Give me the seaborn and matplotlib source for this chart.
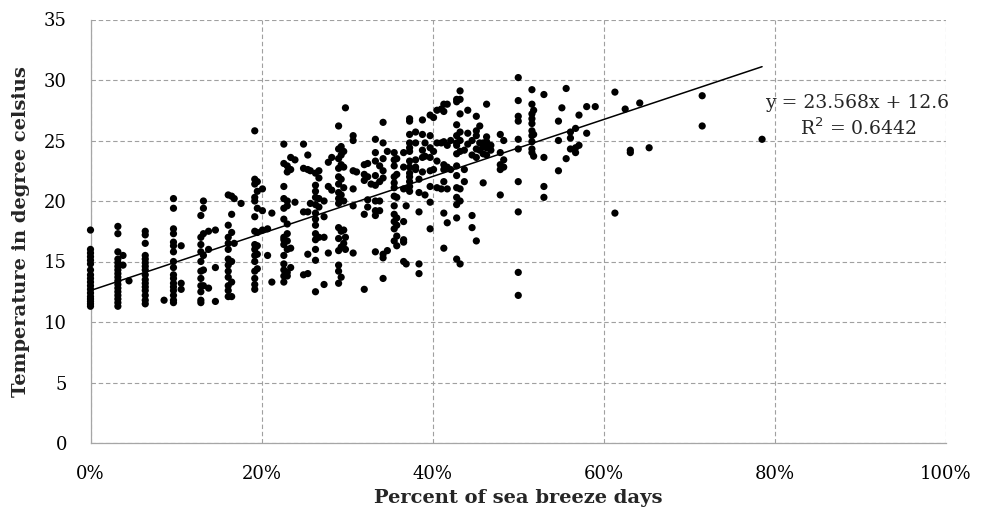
import matplotlib
matplotlib.use("Agg")
import matplotlib.pyplot as plt
import matplotlib.ticker as mticker
import numpy as np
import pandas as pd
import seaborn as sns

# Share of sea breeze days (percent) for each column of monthly observations
pct_columns = [
    0.0, 3.2, 3.8, 4.5, 6.4, 8.6, 9.7, 10.6, 12.9, 13.2, 13.8, 14.6,
    16.1, 16.5, 16.8, 17.6, 19.2, 19.5, 20.1, 20.7, 21.2, 22.6, 23.0, 23.4,
    23.9, 24.9, 25.4, 25.7, 26.3, 26.7, 27.3, 27.8, 28.2, 29.0, 29.3, 29.6,
    29.8, 30.7, 31.1, 32.0, 32.4, 32.8, 33.3, 33.8, 34.2, 34.7, 35.5, 35.8,
    36.6, 36.9, 37.3, 38.0, 38.4, 38.8, 39.1, 39.7, 40.1, 40.5, 41.0, 41.3,
    41.7, 42.1, 42.8, 43.2, 43.7, 44.1, 44.6, 45.1, 45.5, 45.9, 46.3, 46.8,
    47.9, 48.3, 50.0, 51.6, 51.8, 53.0, 54.7, 55.1, 55.6, 56.1, 56.7, 57.1,
    58.0, 59.0, 61.3, 62.5, 63.1, 64.2, 65.3, 71.5, 78.5,
]

# Mean temperature (degree celsius) observed in each column above
temp_columns = [
    [17.6, 16.0, 15.7, 15.4, 15.1, 14.8, 14.3, 13.9, 13.6, 13.3, 13.0, 12.7, 12.4, 12.1, 11.9, 11.7, 11.5, 11.3],
    [17.9, 17.3, 15.8, 15.2, 14.9, 14.6, 14.3, 14.0, 13.7, 13.4, 13.1, 12.8, 12.5, 12.2, 11.9, 11.6, 11.3],
    [15.5, 14.7],
    [13.4],
    [17.5, 17.2, 16.5, 15.5, 15.2, 14.9, 14.6, 14.3, 13.9, 13.5, 13.2, 12.9, 12.6, 12.2, 11.8, 11.5],
    [11.8],
    [20.2, 19.4, 17.7, 17.3, 16.6, 16.3, 15.8, 15.0, 14.5, 13.9, 13.6, 13.2, 12.9, 12.6, 12.2, 11.8, 11.6],
    [16.3, 13.2, 12.7],
    [18.8, 17.0, 16.4, 15.8, 15.0, 14.2, 13.6, 13.0, 12.5, 11.8, 11.6],
    [20.0, 19.4, 17.3, 15.5, 14.3, 13.0],
    [17.5, 16.0, 12.8],
    [17.6, 14.5, 11.7],
    [20.5, 18.0, 17.0, 16.5, 16.0, 15.2, 14.7, 14.2, 13.7, 13.0, 12.6, 12.1],
    [20.4, 18.9, 17.4, 15.0, 13.3, 12.1],
    [20.2, 16.5],
    [19.8],
    [25.8, 21.8, 21.4, 20.3, 20.0, 18.7, 17.5, 16.4, 16.0, 15.5, 15.0, 14.2, 13.6, 13.1, 12.7],
    [21.6, 20.8, 19.4, 17.4, 16.3, 15.6, 14.4],
    [21.0, 19.2, 17.6],
    [17.7, 15.5],
    [19.0, 13.3],
    [24.7, 23.1, 21.2, 20.2, 19.4, 18.5, 17.0, 16.8, 16.4, 15.5, 14.8, 14.3, 13.8, 13.3],
    [22.9, 22.4, 20.0, 19.6, 18.1, 17.3, 16.7, 16.0, 14.1, 13.8],
    [23.6, 22.6, 16.1, 14.5],
    [23.4, 19.9],
    [24.7, 22.7, 19.1, 13.9],
    [23.8, 22.6, 19.1, 15.6, 14.0],
    [22.5, 19.8],
    [22.3, 21.3, 20.8, 20.3, 19.7, 19.0, 18.5, 18.0, 17.3, 16.8, 16.0, 15.1, 12.5],
    [22.5, 21.9, 20.2, 19.5, 17.0],
    [20.0, 18.7, 17.0, 13.1],
    [23.2, 21.2, 15.7],
    [23.6, 20.9],
    [26.2, 24.3, 23.5, 22.7, 22.0, 21.4, 20.7, 20.2, 19.8, 17.8, 16.9, 15.9, 14.7, 14.2, 13.2],
    [24.5, 23.8, 23.0, 21.8, 20.5, 17.5, 16.2, 13.7],
    [24.1, 22.8, 21.1, 20.0, 17.6, 16.5],
    [27.7, 17.0, 16.0],
    [25.4, 25.0, 22.5, 21.0, 19.6, 15.7],
    [22.4],
    [23.0, 22.2, 21.7, 18.9, 12.7],
    [23.1, 22.0, 20.1, 19.5],
    [21.4],
    [25.1, 24.0, 23.3, 22.1, 21.3, 20.0, 19.2, 18.8, 15.8],
    [22.9, 21.6, 20.0, 19.2],
    [26.5, 24.8, 23.5, 22.5, 21.9, 15.6, 15.3, 13.6],
    [24.1, 15.9],
    [24.0, 23.4, 22.9, 22.0, 21.5, 21.1, 20.4, 19.6, 18.9, 18.3, 17.7, 16.7],
    [23.5, 22.2, 20.3, 18.6, 18.0, 17.1, 16.3],
    [24.0, 22.8, 21.0, 18.3, 16.8, 16.6, 15.0],
    [19.6, 14.8],
    [26.8, 26.6, 25.5, 24.8, 24.4, 24.1, 23.3, 22.8, 22.3, 22.0, 21.6, 21.2, 20.8],
    [25.7, 24.8, 23.4, 22.8, 22.6],
    [21.8, 20.7, 19.1, 14.8, 14.0],
    [26.7, 25.5, 24.2, 23.6, 22.4],
    [24.8, 23.7, 20.5],
    [27.1, 25.4, 24.4, 23.6, 22.5, 21.2, 19.9, 17.7],
    [26.9, 24.1, 22.6],
    [27.5, 24.8, 23.3, 21.1],
    [27.6, 24.8, 21.0],
    [28.0, 27.4, 24.9, 23.0, 22.6, 21.6, 19.0, 16.1],
    [28.0, 24.6, 22.8, 21.0, 18.2],
    [25.0, 22.6],
    [28.4, 28.2, 26.3, 25.4, 24.8, 24.6, 23.9, 22.9, 22.1, 21.1, 20.3, 19.7, 18.6, 15.2],
    [29.1, 28.4, 27.2, 25.7, 25.0, 24.1, 21.0, 20.0, 14.8],
    [24.2, 22.6, 21.6],
    [27.5, 25.6, 24.7],
    [25.0, 23.8, 18.8, 17.8],
    [27.0, 25.8, 25.4, 24.3, 23.6, 16.7],
    [26.2, 24.8, 24.2],
    [24.8, 24.5, 23.9, 21.5],
    [28.0, 25.3, 24.9, 24.4, 23.8],
    [24.6, 24.2],
    [25.5, 24.0, 23.0, 22.6, 20.5],
    [25.0, 23.4, 22.8],
    [30.2, 28.3, 27.0, 26.6, 25.1, 24.3, 21.6, 19.1, 14.1, 12.2],
    [29.2, 28.0, 27.2, 26.8, 26.4, 25.8, 25.4, 24.9, 24.3, 24.0],
    [27.5, 25.5, 23.7],
    [28.8, 23.6, 21.2, 20.3],
    [26.6, 25.0, 22.5],
    [27.7],
    [29.3, 23.5],
    [25.7, 25.2, 24.3],
    [26.0, 24.4, 24.0],
    [27.1, 24.6],
    [27.8, 25.6],
    [27.8],
    [29.0, 19.0],
    [27.6],
    [24.2, 24.0],
    [28.1],
    [24.4],
    [28.7, 26.2],
    [25.1],
]

# Linear trend reported with the chart
trend_slope = 23.568
trend_intercept = 12.6
trend_r2 = 0.6442

x_ticks = [0.0, 0.2, 0.4, 0.6, 0.8, 1.0]
y_ticks = [0, 5, 10, 15, 20, 25, 30, 35]

rows = [(p / 100.0, t) for p, ts in zip(pct_columns, temp_columns) for t in ts]
df = pd.DataFrame(rows, columns=["share", "temp"])

sns.set_theme(style="white")
plt.rcParams["font.family"] = ["DejaVu Serif"]

fig = plt.figure(figsize=(9.82, 5.25), dpi=100)
left, right, top, bottom = 90.5, 946.0, 19.5, 443.0
ax = fig.add_axes([left / 982, 1 - bottom / 525, (right - left) / 982, (bottom - top) / 525])

sns.scatterplot(data=df, x="share", y="temp", ax=ax, color="black",
                s=27, linewidth=0, edgecolor="none", zorder=3, clip_on=False)

x_line = np.array([0.0, df["share"].max()])
trend = pd.DataFrame({"share": x_line, "temp": trend_slope * x_line + trend_intercept})
sns.lineplot(data=trend, x="share", y="temp", ax=ax, color="black",
             linewidth=1.1, zorder=4)

ax.set_xlim(0, 1.0)
ax.set_ylim(0, 35)
ax.set_xticks(x_ticks)
ax.set_yticks(y_ticks)
ax.xaxis.set_major_formatter(mticker.PercentFormatter(xmax=1.0, decimals=0))
ax.tick_params(axis="both", labelsize=13, length=0, colors="black")
ax.tick_params(axis="y", pad=17)
ax.tick_params(axis="x", pad=16)

ax.grid(True, color="#a0a0a0", linestyle=(0, (4, 2.5)), linewidth=0.8, zorder=0)
for side in ("top", "right"):
    ax.spines[side].set_visible(False)
for side in ("left", "bottom"):
    ax.spines[side].set_color("#a6a6a6")
    ax.spines[side].set_linewidth(0.9)

ax.set_xlabel("Percent of sea breeze days", fontsize=14, fontweight="bold", labelpad=4)
ax.set_ylabel("Temperature in degree celsius", fontsize=14, fontweight="bold", labelpad=10)

ax.text(0.896, 28.1, f"y = {trend_slope}x + {trend_intercept}", ha="center", va="center",
        fontsize=13.5, zorder=5)
ax.text(0.898, 26.0, f"R$^2$ = {trend_r2}", ha="center", va="center",
        fontsize=13.5, zorder=5)

fig.savefig("out.png", dpi=100)
